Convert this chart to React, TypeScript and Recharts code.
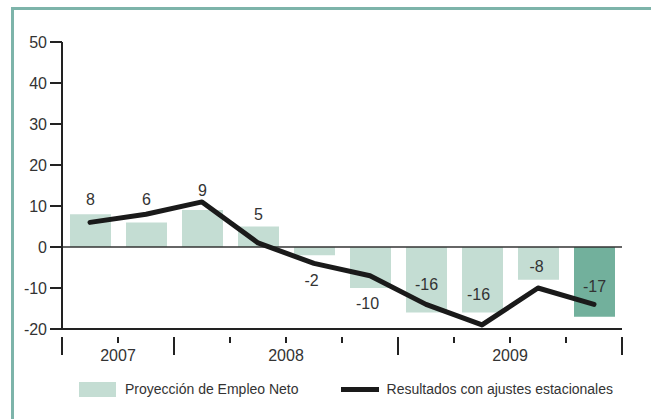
import { Bar, Cell, ComposedChart, LabelList, Line, ReferenceLine, XAxis, YAxis } from "recharts";

const quarters = ["3T 2007", "4T 2007", "1T 2008", "2T 2008", "3T 2008", "4T 2008", "1T 2009", "2T 2009", "3T 2009", "4T 2009"];
const years = ["2007", "2007", "2008", "2008", "2008", "2008", "2009", "2009", "2009", "2009"];
const proyeccion = [8, 6, 9, 5, -2, -10, -16, -16, -8, -17];
const ajustados = [6, 8, 11, 1, -4, -7, -14, -19, -10, -14];
const yTicks = [-20, -10, 0, 10, 20, 30, 40, 50];

const data = quarters.map((q, i) => ({ q, year: years[i], proy: proyeccion[i], adj: ajustados[i] }));

const font = "'Liberation Sans', Arial, sans-serif";
const light = "#c4ddd3";
const dark = "#72b09c";
const band = 56;
// label shifts so numbers sit clear of the black line
const labelShift = [[0, -15], [0, -23], [0, -20], [0, -12], [-3, 25], [-3, 15], [0, -28], [-4, -18], [-2, -13], [0, -30]];

function QuarterTick(props: any) {
  const { x, y, index } = props;
  const left = x - band / 2;
  const newYear = index === 0 || years[index] !== years[index - 1];
  const first = years.indexOf(years[index]);
  const count = years.filter((v) => v === years[index]).length;
  return (
    <g>
      <line x1={left} x2={left} y1={y} y2={newYear ? y + 18 : y + 6} stroke="#222" strokeWidth={2} />
      {index === years.length - 1 && <line x1={left + band} x2={left + band} y1={y} y2={y + 18} stroke="#222" strokeWidth={2} />}
      {first === index && (
        <text x={left + (count * band) / 2} y={y + 24} textAnchor="middle" fontSize={16} fill="#333" fontFamily={font}>
          {years[index]}
        </text>
      )}
    </g>
  );
}

function BarValue(props: any) {
  const { x, y, width, height, value, index } = props;
  const [dx, dy] = labelShift[index];
  const edge = value >= 0 ? Math.min(y, y + height) : Math.max(y, y + height);
  return (
    <text x={x + width / 2 + dx} y={edge + dy} textAnchor="middle" dominantBaseline="central" fontSize={16} fill="#333" fontFamily={font}>
      {value}
    </text>
  );
}

export default function App() {
  return (
    <div style={{ position: "absolute", left: 0, top: 0, width: 651, height: 419, background: "#fff", overflow: "hidden", fontFamily: font }}>
      <div style={{ position: "absolute", left: 11, top: 7, right: 0, height: 3, background: "#7db4aa" }} />
      <div style={{ position: "absolute", left: 11, top: 7, bottom: 0, width: 3, background: "#7db4aa" }} />
      <ComposedChart width={651} height={419} data={data} margin={{ top: 42, right: 29, bottom: 60, left: 0 }} barCategoryGap={0}>
        <YAxis
          domain={[-20, 50]}
          ticks={yTicks}
          width={62}
          tickSize={12}
          tickMargin={3}
          stroke="#222"
          strokeWidth={2}
          tick={{ fontSize: 16, fill: "#333", fontFamily: font }}
          interval={0}
        />
        <XAxis dataKey="q" height={30} interval={0} tickLine={false} stroke="#222" strokeWidth={2} tick={<QuarterTick />} />
        <ReferenceLine y={0} stroke="#333" strokeWidth={1.5} />
        <Bar dataKey="proy" barSize={41} isAnimationActive={false}>
          {data.map((d, i) => (
            <Cell key={d.q} fill={i === data.length - 1 ? dark : light} />
          ))}
          <LabelList dataKey="proy" content={<BarValue />} />
        </Bar>
        <Line dataKey="adj" type="linear" stroke="#1a1a1a" strokeWidth={5} dot={false} strokeLinecap="round" strokeLinejoin="round" isAnimationActive={false} />
      </ComposedChart>
      <div style={{ position: "absolute", top: 378, left: 79, display: "flex", alignItems: "center", fontSize: 14, color: "#333", height: 22 }}>
        <span style={{ width: 37, height: 15, background: light, display: "inline-block" }} />
        <span style={{ marginLeft: 9 }}>Proyección de Empleo Neto</span>
        <span style={{ width: 38, height: 5, background: "#1a1a1a", display: "inline-block", marginLeft: 42 }} />
        <span style={{ marginLeft: 8 }}>Resultados con ajustes estacionales</span>
      </div>
    </div>
  );
}
